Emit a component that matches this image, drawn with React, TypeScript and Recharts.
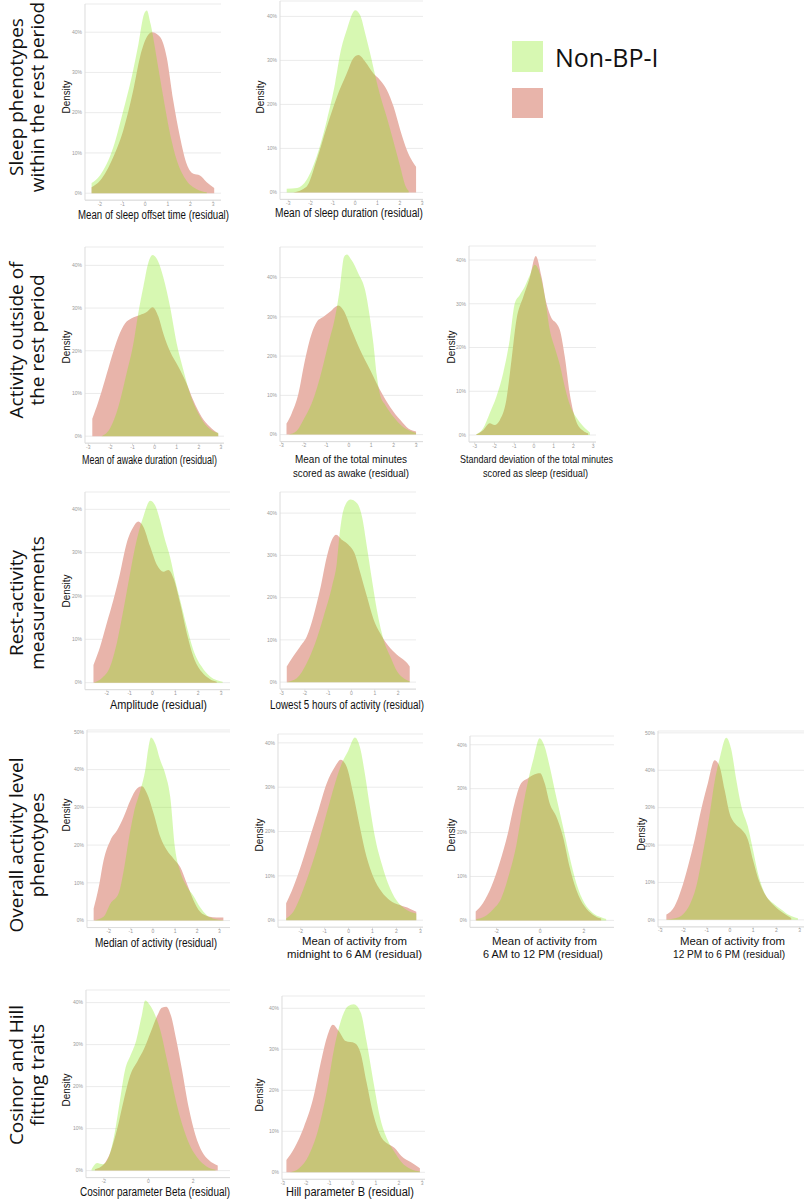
import React from "react";
import { AreaChart, Area, XAxis, YAxis, CartesianGrid } from "recharts";

type Pt = [number, number];

// ---- tick values ----
const ticksM3to3 = [-3, -2, -1, 0, 1, 2, 3];
const ticksM2to3 = [-2, -1, 0, 1, 2, 3];
const ticksM3to2 = [-3, -2, -1, 0, 1, 2];
const ticksEven = [-2, 0, 2];
const pct40 = [0, 10, 20, 30, 40];
const pct50 = [0, 10, 20, 30, 40, 50];

// ---- density curves: [residual, density %] ----
const sleepOffsetNonBp: Pt[] = [[-2.37, 2.5], [-2, 4.4], [-1.41, 11.4], [-0.97, 20.5], [-0.6, 28.8], [-0.3, 37], [-0.05, 44.5], [0.07, 45.4], [0.24, 42], [0.5, 33.8], [0.8, 23.9], [1.1, 14.7], [1.4, 8.1], [1.83, 3.1], [2.28, 1], [2.72, 0.2]];
const sleepOffsetBp: Pt[] = [[-2.37, 1.5], [-2, 3.1], [-1.41, 9], [-0.97, 15.6], [-0.53, 25.5], [-0.23, 33.8], [0.07, 38.8], [0.3, 40], [0.66, 38.8], [0.95, 33.8], [1.24, 23], [1.54, 13.9], [1.83, 7.3], [2.13, 4.8], [2.42, 4.4], [2.72, 2.7], [3.05, 1.3]];

const sleepDurNonBp: Pt[] = [[-3.07, 0.8], [-2.6, 1], [-2.18, 2.8], [-1.73, 8.1], [-1.27, 16.4], [-0.9, 24.8], [-0.67, 31.6], [-0.38, 36.9], [0, 41.4], [0.22, 40.3], [0.45, 36.1], [0.67, 31.6], [0.9, 26.5], [1.12, 22], [1.42, 17], [1.72, 11.5], [2.02, 5.8], [2.25, 1.5], [2.4, 0.3]];
const sleepDurBp: Pt[] = [[-2.77, 0], [-2.18, 1.3], [-1.73, 7.3], [-1.27, 14.9], [-0.82, 21.7], [-0.38, 27], [-0.08, 30.5], [0.15, 31.2], [0.45, 29.7], [0.82, 27], [1.12, 25.5], [1.42, 23.3], [1.72, 19.5], [2.02, 14.2], [2.32, 9.6], [2.73, 5.8]];

const awakeDurNonBp: Pt[] = [[-2.4, 0], [-2.02, 1.8], [-1.64, 6.9], [-1.27, 14.7], [-0.96, 21.7], [-0.74, 28.8], [-0.51, 35], [-0.29, 40.5], [-0.09, 42.4], [0.09, 41.6], [0.39, 37.3], [0.7, 30.3], [1.0, 21.7], [1.3, 15.5], [1.6, 10], [1.9, 6.1], [2.2, 3.4], [2.58, 1.4], [2.88, 0.8]];
const awakeDurBp: Pt[] = [[-2.82, 4.1], [-2.55, 8], [-2.25, 13.1], [-1.94, 18.6], [-1.64, 23.3], [-1.34, 26.4], [-1.04, 27.6], [-0.66, 28.4], [-0.36, 29.1], [-0.09, 30.2], [0.17, 28], [0.39, 24.1], [0.7, 19.8], [1.07, 16.3], [1.45, 12.3], [1.75, 8.4], [2.13, 4.5], [2.5, 2.2], [2.88, 0.6]];

const awakeMinNonBp: Pt[] = [[-2.7, 0], [-2.33, 0.9], [-2.03, 3.7], [-1.66, 7.9], [-1.28, 14.7], [-0.91, 23.2], [-0.61, 30], [-0.39, 37.6], [-0.21, 45.3], [-0.09, 45.9], [0.13, 44.4], [0.43, 41], [0.73, 36.8], [0.96, 29.1], [1.1, 23], [1.25, 15], [1.4, 10], [1.63, 7.5], [2.0, 4.5], [2.37, 2.2], [2.75, 0.9], [3.0, 0.4]];
const awakeMinBp: Pt[] = [[-2.78, 2.8], [-2.55, 5.4], [-2.25, 10.4], [-1.96, 18.9], [-1.66, 25.7], [-1.43, 28.7], [-1.13, 30], [-0.84, 31.3], [-0.46, 32.9], [-0.24, 31.7], [0.13, 26.6], [0.51, 21.5], [0.96, 16.4], [1.4, 11.3], [1.85, 7], [2.3, 3.7], [2.67, 1.5], [3.0, 0.8]];

const sdSleepNonBp: Pt[] = [[-2.92, 0.2], [-2.58, 1.5], [-2.24, 5], [-1.9, 8.8], [-1.56, 14.1], [-1.23, 21.7], [-0.97, 30.1], [-0.72, 32], [-0.47, 33.9], [-0.21, 36.5], [0.04, 38.9], [0.29, 37], [0.55, 31.6], [0.8, 24], [1.05, 20], [1.31, 16], [1.56, 11], [1.81, 7], [2.15, 4], [2.49, 2], [2.83, 0.6]];
const sdSleepBp: Pt[] = [[-2.92, 0.1], [-2.58, 1.1], [-2.24, 2.7], [-1.99, 2.3], [-1.73, 3.4], [-1.4, 8], [-1.14, 17.1], [-0.89, 26.3], [-0.55, 31.5], [-0.21, 36], [0.09, 40.9], [0.38, 36.2], [0.63, 30.1], [0.89, 26.7], [1.14, 25.5], [1.31, 24], [1.56, 17.9], [1.81, 9.5], [2.15, 3], [2.49, 1], [2.74, 0.4]];

const amplitudeNonBp: Pt[] = [[-2.58, 0], [-2.22, 1], [-1.85, 3.7], [-1.56, 9.1], [-1.27, 16.8], [-0.98, 25.2], [-0.69, 32.9], [-0.4, 38.3], [-0.1, 42], [0.11, 41], [0.33, 37.5], [0.55, 32.9], [0.77, 29], [0.99, 23.7], [1.21, 19.1], [1.5, 12.9], [1.79, 7.5], [2.15, 3.7], [2.52, 1.4], [3.07, 0.2]];
const amplitudeBp: Pt[] = [[-2.58, 4.1], [-2.29, 8.3], [-2, 13.7], [-1.71, 19.1], [-1.42, 25.2], [-1.13, 32.2], [-0.83, 36], [-0.62, 37.2], [-0.4, 36], [-0.1, 31.4], [0.19, 27.2], [0.48, 25.6], [0.7, 26], [0.92, 24.1], [1.21, 18.3], [1.5, 11.4], [1.79, 6], [2.15, 2.5], [2.52, 0.8], [2.81, 0.2]];

const lowest5NonBp: Pt[] = [[-2.78, 0], [-2.35, 0.9], [-1.92, 4.5], [-1.56, 9.2], [-1.2, 15.5], [-0.84, 22.6], [-0.63, 28.2], [-0.49, 36], [-0.34, 40.8], [-0.05, 43.2], [0.23, 42.4], [0.45, 39.2], [0.66, 32.1], [0.88, 24.2], [1.09, 17.1], [1.38, 10], [1.67, 6], [1.96, 2.5], [2.24, 0.9], [2.5, 0.2]];
const lowest5Bp: Pt[] = [[-2.78, 3.7], [-2.5, 6.1], [-2.21, 8.4], [-1.92, 10.8], [-1.64, 15.5], [-1.35, 21.9], [-1.06, 29.7], [-0.84, 33.7], [-0.66, 34.9], [-0.41, 33.7], [-0.13, 32.5], [0.16, 30.1], [0.38, 25.8], [0.66, 20.3], [0.95, 14.8], [1.31, 10.8], [1.67, 8], [2.03, 6.1], [2.39, 4.5], [2.5, 3.7]];

const medianNonBp: Pt[] = [[-2.68, 0], [-2.23, 1], [-1.92, 4.5], [-1.55, 7.2], [-1.32, 13.3], [-1.1, 21.3], [-0.87, 28.4], [-0.57, 34.5], [-0.35, 39.8], [-0.2, 46], [-0.09, 48.5], [0.1, 46.9], [0.33, 42.5], [0.55, 39], [0.78, 32.8], [1.0, 19], [1.23, 13], [1.53, 9], [1.83, 6.5], [2.13, 3.5], [2.43, 1.4], [2.73, 0.5], [3.18, 0.1]];
const medianBp: Pt[] = [[-2.68, 3.2], [-2.45, 8.9], [-2.23, 16], [-1.92, 21.3], [-1.62, 23.9], [-1.32, 27.5], [-1.02, 31.9], [-0.72, 35], [-0.5, 35.6], [-0.27, 33.7], [0.03, 28.4], [0.33, 22.2], [0.63, 18.6], [0.93, 16.4], [1.23, 14.2], [1.53, 9.8], [1.83, 5.4], [2.13, 2.3], [2.5, 1.1], [2.88, 0.8], [3.18, 0.8]];

const night6NonBp: Pt[] = [[-2.61, 0.4], [-2.31, 1.9], [-1.96, 6], [-1.61, 11.3], [-1.26, 17.3], [-0.92, 24.1], [-0.57, 30.8], [-0.29, 35.3], [-0.01, 38.3], [0.26, 41.2], [0.47, 39.1], [0.68, 33.1], [0.89, 25.6], [1.1, 18.8], [1.38, 12.8], [1.65, 8.3], [2.0, 4.5], [2.35, 2.6], [2.83, 1.5]];
const night6Bp: Pt[] = [[-2.61, 3.8], [-2.31, 7.5], [-1.96, 12.8], [-1.61, 18.8], [-1.26, 24.8], [-0.92, 30.8], [-0.57, 34.6], [-0.33, 36.2], [-0.08, 34.6], [0.19, 28.6], [0.47, 21.1], [0.75, 14.3], [1.03, 9.8], [1.38, 6.4], [1.72, 4.5], [2.14, 3.4], [2.56, 2.6], [2.83, 1.9]];

const morningNonBp: Pt[] = [[-2.93, 0.3], [-2.55, 0.9], [-2.17, 2.5], [-1.79, 5], [-1.4, 11], [-1.1, 17], [-0.79, 26], [-0.55, 32], [-0.3, 37], [-0.03, 41.5], [0.2, 39.6], [0.43, 35.1], [0.73, 28.2], [1.04, 21.4], [1.34, 14.6], [1.65, 8.5], [2.03, 3.9], [2.41, 1.7], [2.79, 0.7], [3.02, 0.3]];
const morningBp: Pt[] = [[-2.96, 2], [-2.63, 3.9], [-2.24, 7.7], [-1.86, 13.1], [-1.48, 19.9], [-1.18, 26.7], [-0.87, 31.3], [-0.56, 32.4], [-0.18, 33.4], [0, 33.5], [0.2, 31.3], [0.43, 26.7], [0.73, 23.7], [1.04, 19.1], [1.34, 12.3], [1.65, 7], [2.03, 3.2], [2.41, 1.3], [2.79, 0.4]];

const afternoonNonBp: Pt[] = [[-2.74, 0.1], [-2.31, 0.5], [-2.02, 1.5], [-1.74, 4], [-1.45, 9], [-1.16, 18], [-0.88, 28], [-0.66, 37], [-0.45, 43], [-0.16, 48.7], [0.06, 45.5], [0.27, 37.5], [0.49, 30.4], [0.77, 25], [0.99, 18.8], [1.2, 12.6], [1.49, 7.2], [1.85, 4.5], [2.21, 2.8], [2.57, 1.2], [2.93, 0.4]];
const afternoonBp: Pt[] = [[-2.74, 1.4], [-2.38, 3.7], [-2.1, 8.1], [-1.81, 14.3], [-1.52, 21.5], [-1.24, 29.5], [-0.95, 36.6], [-0.66, 42.7], [-0.45, 41.1], [-0.23, 34.8], [-0.02, 28.6], [0.2, 25.9], [0.49, 24.2], [0.77, 21.5], [0.99, 16.1], [1.28, 9.9], [1.56, 6.3], [1.92, 3.7], [2.28, 1.9], [2.64, 0.5]];

const cosinorNonBp: Pt[] = [[-2.55, 0.3], [-2.3, 1.8], [-2.05, 1.5], [-1.8, 3], [-1.55, 8], [-1.3, 16], [-1.05, 24], [-0.8, 27.5], [-0.55, 31], [-0.3, 37], [-0.15, 40.5], [0.05, 39.5], [0.3, 37], [0.55, 33], [0.8, 27], [1.05, 21], [1.3, 15], [1.6, 9.5], [1.9, 5.5], [2.2, 3], [2.6, 1], [3.0, 0.2]];
const cosinorBp: Pt[] = [[-2.4, 0.3], [-2.0, 1.5], [-1.7, 4.5], [-1.4, 10], [-1.1, 17], [-0.8, 23], [-0.5, 26], [-0.2, 29], [0.1, 33], [0.4, 37], [0.6, 38.8], [0.8, 39], [1.0, 37], [1.25, 31], [1.5, 24], [1.8, 15], [2.1, 8.5], [2.4, 4.5], [2.7, 2.5], [3.1, 1.2]];

const hillNonBp: Pt[] = [[-2.7, 0], [-2.3, 1], [-1.9, 4], [-1.5, 10], [-1.1, 20], [-0.8, 30], [-0.5, 37], [-0.2, 40.5], [0.05, 41], [0.35, 39], [0.6, 32], [0.9, 22], [1.2, 13], [1.5, 8], [1.8, 5], [2.1, 2.5], [2.5, 0.8], [2.9, 0.2]];
const hillBp: Pt[] = [[-2.85, 3], [-2.5, 6], [-2.1, 11], [-1.7, 18], [-1.4, 26], [-1.1, 33], [-0.85, 36], [-0.6, 34.5], [-0.3, 32], [0.1, 31.5], [0.35, 29], [0.6, 22], [0.9, 14], [1.2, 9], [1.5, 7], [1.8, 6], [2.1, 4], [2.5, 2.5], [2.9, 1]];

const groupNames = ["Non-BP-I", ""];

const rowTitles = [
  { lines: ["Sleep phenotypes", "within the rest period"], cy: 97 },
  { lines: ["Activity outside of", "the rest period"], cy: 340 },
  { lines: ["Rest-activity", "measurements"], cy: 603 },
  { lines: ["Overall activity level", "phenotypes"], cy: 845 },
  { lines: ["Cosinor and Hill", "fitting traits"], cy: 1075 },
];

// ---- panel layout ----
type Panel = {
  nonBp: Pt[];
  bp: Pt[];
  left: number;
  right: number;
  zero: number;
  px10: number;
  yMax: number;
  xDomain: [number, number];
  xTicks: number[];
  yTicks: number[];
  density: [number, number] | null;
  labels: [string, number, number, number][];
};

const panels: Panel[] = [
  { nonBp: sleepOffsetNonBp, bp: sleepOffsetBp, left: 85, right: 221, zero: 193, px10: 40.25, yMax: 47, xDomain: [-2.66, 3.35], xTicks: ticksM2to3, yTicks: pct40, density: [66, 97], labels: [["Mean of sleep offset time (residual)", 153.5, 215, 151]] },
  { nonBp: sleepDurNonBp, bp: sleepDurBp, left: 280, right: 423, zero: 192.3, px10: 44, yMax: 43.5, xDomain: [-3.37, 3.04], xTicks: ticksM3to3, yTicks: pct40, density: [260, 97], labels: [["Mean of sleep duration (residual)", 349, 213, 148]] },
  { nonBp: awakeDurNonBp, bp: awakeDurBp, left: 85, right: 224, zero: 436, px10: 42.7, yMax: 44.3, xDomain: [-3.15, 3.14], xTicks: ticksM3to3, yTicks: pct40, density: [66, 347], labels: [["Mean of awake duration (residual)", 149.5, 460, 135]] },
  { nonBp: awakeMinNonBp, bp: awakeMinBp, left: 280, right: 423, zero: 434.3, px10: 39.25, yMax: 47.8, xDomain: [-3.07, 3.31], xTicks: ticksM3to3, yTicks: pct40, density: null, labels: [["Mean of the total minutes", 351, 459, 112], ["scored as awake (residual)", 351, 473, 116]] },
  { nonBp: sdSleepNonBp, bp: sdSleepBp, left: 469, right: 596, zero: 435, px10: 43.75, yMax: 43.2, xDomain: [-3.29, 3.14], xTicks: ticksM3to3, yTicks: pct40, density: [451, 347], labels: [["Standard deviation of the total minutes", 536.5, 459, 153], ["scored as sleep (residual)", 535.5, 473, 105]] },
  { nonBp: amplitudeNonBp, bp: amplitudeBp, left: 85, right: 230, zero: 682.7, px10: 43.33, yMax: 44, xDomain: [-2.95, 3.39], xTicks: ticksM2to3, yTicks: pct40, density: [66, 591], labels: [["Amplitude (residual)", 158.5, 705, 97]] },
  { nonBp: lowest5NonBp, bp: lowest5Bp, left: 280, right: 416, zero: 682.3, px10: 42.25, yMax: 45, xDomain: [-3.07, 2.77], xTicks: ticksM3to2, yTicks: pct40, density: null, labels: [["Lowest 5 hours of activity (residual)", 347, 705, 154]] },
  { nonBp: medianNonBp, bp: medianBp, left: 87, right: 230, zero: 920.3, px10: 37.73, yMax: 50.5, xDomain: [-2.98, 3.48], xTicks: ticksM2to3, yTicks: pct50, density: [66, 815], labels: [["Median of activity (residual)", 156, 943, 122]] },
  { nonBp: night6NonBp, bp: night6Bp, left: 278, right: 423, zero: 920, px10: 44.33, yMax: 42, xDomain: [-2.95, 3.11], xTicks: ticksM2to3, yTicks: pct40, density: [259, 835], labels: [["Mean of activity from", 354.5, 941, 105], ["midnight to 6 AM (residual)", 354.5, 954, 135]] },
  { nonBp: morningNonBp, bp: morningBp, left: 470, right: 614, zero: 920.7, px10: 43.9, yMax: 42, xDomain: [-3.22, 3.38], xTicks: ticksEven, yTicks: pct40, density: [451, 835], labels: [["Mean of activity from", 544.5, 941, 105], ["6 AM to 12 PM (residual)", 543, 954, 120]] },
  { nonBp: afternoonNonBp, bp: afternoonBp, left: 658, right: 804, zero: 920.3, px10: 37.4, yMax: 50.5, xDomain: [-3.1, 3.19], xTicks: ticksM3to3, yTicks: pct50, density: [641, 834], labels: [["Mean of activity from", 732.5, 941, 105], ["12 PM to 6 PM (residual)", 729, 954, 112]] },
  { nonBp: cosinorNonBp, bp: cosinorBp, left: 86, right: 230, zero: 1171, px10: 42, yMax: 43, xDomain: [-2.8, 3.65], xTicks: ticksEven, yTicks: pct40, density: [66, 1090], labels: [["Cosinor parameter Beta (residual)", 155, 1192, 150]] },
  { nonBp: hillNonBp, bp: hillBp, left: 282, right: 425, zero: 1172, px10: 41, yMax: 43, xDomain: [-3.04, 3.12], xTicks: ticksM3to3, yTicks: pct40, density: [259, 1095], labels: [["Hill parameter B (residual)", 350, 1192, 128]] },
];

const GREEN = "#82e90e";
const RED = "#e8b4aa";
const GREEN_SWATCH = "#d7f8b2";
const GRID = "#e6e6e6";
const AXIS = "#dcdcdc";
const YW = 16;
const XH = 9;
const GAP = 7;
const TOPPAD = 4;

type Row = { x: number; nonBp: number | null; bp: number | null };

function mergeCurves(a: Pt[], b: Pt[]): Row[] {
  const map = new Map<number, Row>();
  a.forEach(([x, y]) => {
    const r = map.get(x) ?? { x, nonBp: null, bp: null };
    r.nonBp = y;
    map.set(x, r);
  });
  b.forEach(([x, y]) => {
    const r = map.get(x) ?? { x, nonBp: null, bp: null };
    r.bp = y;
    map.set(x, r);
  });
  return [...map.values()].sort((p, q) => p.x - q.x);
}

const tickStyle = { fontSize: 5, fill: "#9a9a9a", fontFamily: "Liberation Sans, Arial, sans-serif" };

function DensityPanel({ p }: { p: Panel }) {
  const rows = mergeCurves(p.nonBp, p.bp);
  const plotTop = p.zero - (p.yMax / 10) * p.px10;
  const plotH = p.zero + GAP - plotTop;
  const yMin = -(GAP / p.px10) * 10;
  const width = YW + (p.right - p.left) + 2;
  const height = TOPPAD + plotH + XH;
  return (
    <div style={{ position: "absolute", left: p.left - YW, top: plotTop - TOPPAD }}>
      <AreaChart width={width} height={height} data={rows} margin={{ top: TOPPAD, right: 2, bottom: 0, left: 0 }}>
        <CartesianGrid vertical={false} stroke={GRID} strokeWidth={0.8} />
        <XAxis
          type="number"
          dataKey="x"
          domain={p.xDomain}
          ticks={p.xTicks}
          allowDataOverflow
          interval={0}
          height={XH}
          tick={tickStyle}
          tickSize={2}
          tickMargin={0}
          tickLine={{ stroke: AXIS }}
          axisLine={{ stroke: AXIS }}
        />
        <YAxis
          type="number"
          domain={[yMin, p.yMax]}
          ticks={p.yTicks}
          allowDataOverflow
          interval={0}
          width={YW}
          tick={tickStyle}
          tickFormatter={(v) => `${v}%`}
          tickSize={2}
          tickMargin={1}
          tickLine={false}
          axisLine={{ stroke: AXIS }}
        />
        <Area
          type="monotone"
          dataKey="bp"
          connectNulls
          stroke="none"
          fill={RED}
          fillOpacity={1}
          isAnimationActive={false}
        />
        <Area
          type="monotone"
          dataKey="nonBp"
          connectNulls
          stroke="none"
          fill={GREEN}
          fillOpacity={0.32}
          isAnimationActive={false}
        />
      </AreaChart>
    </div>
  );
}

const labelFont = "Liberation Sans, Arial, Helvetica, sans-serif";
const titleFont = "Open Sans, Noto Sans, sans-serif";

export default function App() {
  return (
    <div style={{ position: "absolute", left: 0, top: 0, width: 805, height: 1200, background: "#fff", overflow: "hidden" }}>
      {panels.map((p, i) => (
        <DensityPanel key={i} p={p} />
      ))}
      <svg width={805} height={1200} style={{ position: "absolute", left: 0, top: 0, pointerEvents: "none" }}>
        {rowTitles.map((r, i) =>
          r.lines.map((line, j) => (
            <text
              key={`${i}-${j}`}
              transform={`translate(${16 + j * 21}, ${r.cy}) rotate(-90)`}
              textAnchor="middle"
              dominantBaseline="central"
              fontFamily={titleFont}
              fontSize={19}
              fill="#111"
            >
              {line}
            </text>
          ))
        )}
        {panels.map((p, i) =>
          p.density ? (
            <text
              key={`d${i}`}
              transform={`translate(${p.density[0]}, ${p.density[1]}) rotate(-90)`}
              textAnchor="middle"
              dominantBaseline="central"
              fontFamily={labelFont}
              fontSize={11}
              textLength={33}
              lengthAdjust="spacingAndGlyphs"
              fill="#111"
            >
              Density
            </text>
          ) : null
        )}
        {panels.map((p, i) =>
          p.labels.map(([t, cx, cy, w], j) => (
            <text
              key={`l${i}-${j}`}
              x={cx}
              y={cy}
              textAnchor="middle"
              dominantBaseline="central"
              fontFamily={labelFont}
              fontSize={p.labels.length > 1 ? 11.5 : 12}
              textLength={w}
              lengthAdjust="spacingAndGlyphs"
              fill="#111"
            >
              {t}
            </text>
          ))
        )}
        <rect x={512} y={41} width={31} height={31} fill={GREEN_SWATCH} />
        <rect x={512} y={88} width={31} height={30} fill={RED} />
        <text x={555} y={57} dominantBaseline="central" fontFamily={titleFont} fontSize={25} fill="#111">
          {groupNames[0]}
        </text>
        <text x={555} y={103} dominantBaseline="central" fontFamily={titleFont} fontSize={25} fill="#111">
          {groupNames[1]}
        </text>
      </svg>
    </div>
  );
}
